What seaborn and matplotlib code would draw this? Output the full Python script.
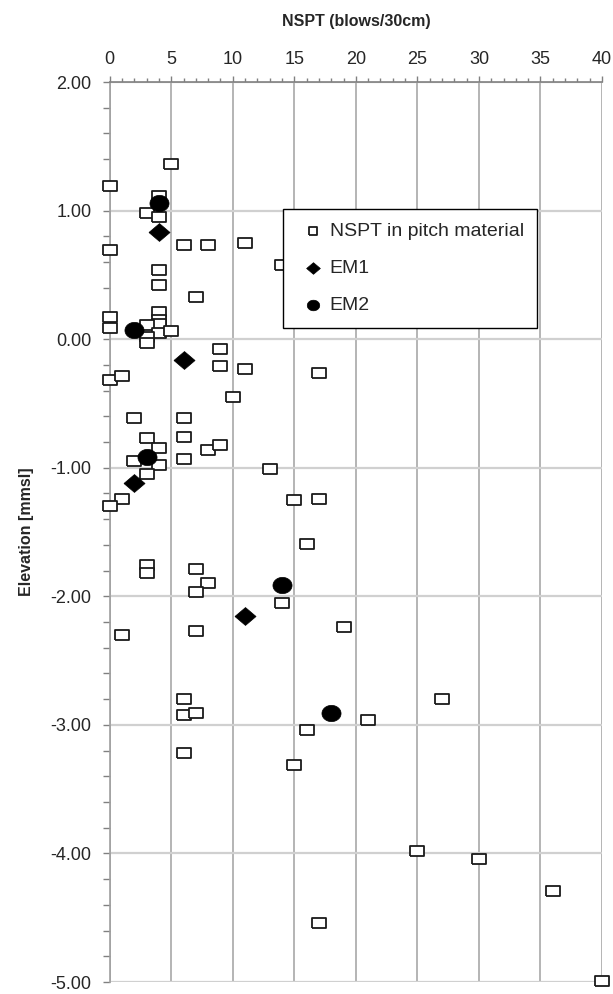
import numpy as np
import pandas as pd
import matplotlib
matplotlib.use("Agg")
import matplotlib.pyplot as plt
from matplotlib.ticker import MultipleLocator, FormatStrFormatter
import seaborn as sns

# NSPT in pitch material (blows/30cm, elevation m msl)
nspt_n = [5, 0, 4, 3, 4, 6, 8, 11, 0, 14, 4, 4, 7, 0, 0, 4, 4, 4, 3, 4, 3, 5, 3,
          9, 9, 11, 17, 0, 1, 10, 2, 6, 3, 6, 4, 8, 9, 2, 6, 4, 3, 13, 15, 17,
          1, 0, 16, 3, 3, 7, 8, 7, 14, 1, 7, 19, 6, 6, 7, 21, 16, 6, 15, 27,
          25, 30, 36, 40, 17]
nspt_elev = [1.36, 1.19, 1.11, 0.98, 0.95, 0.73, 0.73, 0.75, 0.69, 0.58, 0.54,
             0.42, 0.33, 0.17, 0.09, 0.21, 0.15, 0.12, 0.11, 0.05, 0.02, 0.06,
             -0.03, -0.08, -0.21, -0.23, -0.26, -0.32, -0.29, -0.45, -0.61,
             -0.61, -0.77, -0.76, -0.85, -0.86, -0.82, -0.95, -0.93, -0.98,
             -1.05, -1.01, -1.25, -1.24, -1.24, -1.30, -1.59, -1.76, -1.82,
             -1.79, -1.90, -1.97, -2.05, -2.30, -2.27, -2.24, -2.80, -2.92,
             -2.91, -2.96, -3.04, -3.22, -3.31, -2.80, -3.98, -4.04, -4.29,
             -4.99, -4.54]

em1_n = [4, 6, 2, 11]
em1_elev = [0.83, -0.16, -1.12, -2.15]

em2_n = [4, 2, 3, 14, 18]
em2_elev = [1.06, 0.07, -0.92, -1.91, -2.91]

sns.set_style("white")
plt.rcParams['font.family'] = ['Liberation Sans', 'DejaVu Sans']

fig = plt.figure(figsize=(6.13, 9.94), dpi=100)
ax = fig.add_axes([0.179, 0.012, 0.803, 0.9055])

# marker shapes (slightly wider than tall, like the original)
rect = [(-1, -0.82), (1, -0.82), (1, 0.82), (-1, 0.82), (-1, -0.82)]
diam = [(-1, 0), (0, 0.85), (1, 0), (0, -0.85), (-1, 0)]
t = np.linspace(0, 2 * np.pi, 40)
ell = list(zip(np.cos(t), 0.85 * np.sin(t)))

sns.scatterplot(x=nspt_n, y=nspt_elev, marker=rect, s=90, facecolor="white",
                edgecolor="#1a1a1a", linewidth=1.3, ax=ax, zorder=3,
                clip_on=False, label="NSPT in pitch material")
sns.scatterplot(x=em1_n, y=em1_elev, marker=diam, s=230, color="black",
                edgecolor="black", linewidth=0.5, ax=ax, zorder=4,
                clip_on=False, label="EM1")
sns.scatterplot(x=em2_n, y=em2_elev, marker=ell, s=190, color="black",
                edgecolor="black", linewidth=0.5, ax=ax, zorder=4,
                clip_on=False, label="EM2")

ax.set_xlim(0, 40)
ax.set_ylim(-5, 2)
ax.xaxis.tick_top()
ax.xaxis.set_label_position("top")
ax.xaxis.set_major_locator(MultipleLocator(5))
ax.xaxis.set_minor_locator(MultipleLocator(1))
ax.yaxis.set_major_locator(MultipleLocator(1))
ax.yaxis.set_minor_locator(MultipleLocator(0.2))
ax.yaxis.set_major_formatter(FormatStrFormatter("%.2f"))

ax.tick_params(axis="x", which="major", direction="out", length=4, width=1,
               color="#808080", labelsize=13, pad=6, top=True, bottom=False)
ax.tick_params(axis="x", which="minor", direction="out", length=3, width=1,
               color="#808080", top=True, bottom=False)
ax.tick_params(axis="y", which="both", direction="out", length=5, width=1,
               color="#808080", labelsize=13, pad=8, left=True)

ax.xaxis.grid(True, which="major", color="#a8a8a8", linewidth=1.2)
ax.yaxis.grid(True, which="major", color="#d0d0d0", linewidth=1.6)
ax.set_axisbelow(True)

for side in ["right", "bottom"]:
    ax.spines[side].set_visible(False)
ax.spines["top"].set_color("#808080")
ax.spines["left"].set_color("#a0a0a0")
ax.spines["top"].set_linewidth(1.2)
ax.spines["left"].set_linewidth(1.2)

ax.set_xlabel("NSPT (blows/30cm)", fontsize=11.5, fontweight="bold", labelpad=18)
ax.set_ylabel("Elevation [mmsl]", fontsize=11.5, fontweight="bold", labelpad=12)

leg = ax.legend(loc="upper left", bbox_to_anchor=(0.352, 0.859), frameon=True,
                fancybox=False, framealpha=1, edgecolor="black", fontsize=14,
                labelspacing=1.0, handletextpad=0.0, handlelength=1.7,
                borderpad=0.7, borderaxespad=0, markerscale=0.65)
leg.get_frame().set_linewidth(1.0)
leg.set_zorder(10)

fig.savefig("out.png", dpi=100)
